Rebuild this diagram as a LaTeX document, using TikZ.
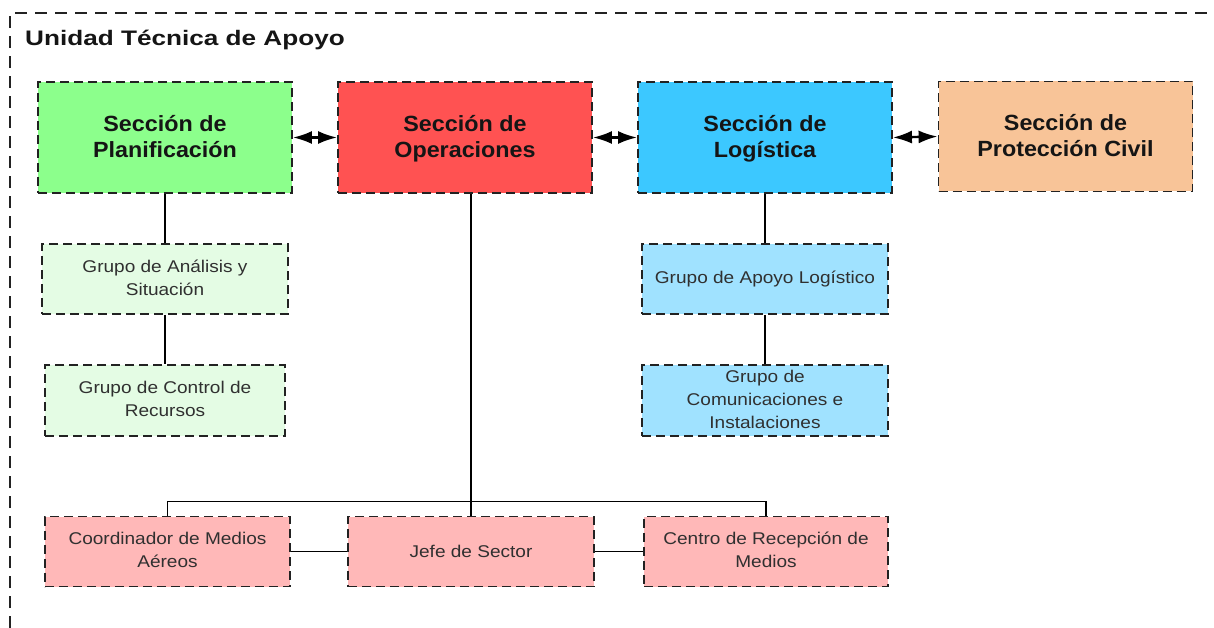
\documentclass[tikz,border=0pt]{standalone}
\usepackage{fontspec}
\setmainfont{Liberation Sans}
\newfontfamily\wideA[FakeStretch=1.06]{Liberation Sans}
\newfontfamily\wideB[FakeStretch=1.12]{Liberation Sans}
\newfontfamily\wideT[FakeStretch=1.245]{Liberation Sans}
\newcommand\secstrut{\rule[-5pt]{0pt}{24pt}}
\usetikzlibrary{arrows.meta}
\definecolor{cplan}{HTML}{8CFF8C}
\definecolor{coper}{HTML}{FF5252}
\definecolor{clog}{HTML}{3CC8FF}
\definecolor{cprot}{HTML}{F8C498}
\definecolor{cgreen}{HTML}{E4FCE4}
\definecolor{cblue}{HTML}{A0E2FF}
\definecolor{cpink}{HTML}{FFB8B8}
\definecolor{edge}{HTML}{222222}
\definecolor{txt}{HTML}{151515}
\definecolor{gtxt}{HTML}{303030}
\tikzset{
  frame/.style={draw=edge,line width=1.4pt,dash pattern=on 12pt off 8pt},
  secbox/.style={draw=edge,line width=1.8pt,dash pattern=on 9pt off 5pt,minimum width=254pt,minimum height=111pt,inner sep=0pt,align=center,text=txt,font=\wideA\fontsize{22}{26}\selectfont\bfseries},
  grpbox/.style={draw=edge,line width=1.6pt,dash pattern=on 9pt off 5pt,minimum height=70pt,inner sep=0pt,align=center,text=gtxt,font=\wideB\fontsize{17}{23}\selectfont},
  link/.style={draw=black,line width=1.3pt},
  dbl/.style={draw=black,line width=2.4pt,{Latex[length=19pt,width=13pt]}-{Latex[length=19pt,width=13pt]}}
}
\begin{document}
\begin{tikzpicture}[x=1pt,y=-1pt]
\useasboundingbox (0,0) rectangle (1214,628);
\coordinate (fbl) at (10,628);
\coordinate (ftl) at (10,13);
\coordinate (ftr) at (1214,13);
\draw[frame] (fbl) -- (ftl) -- (ftr);
\node[anchor=base west,inner sep=0pt,text=txt,font=\wideT\fontsize{21}{25}\selectfont\bfseries] (title) at (25,46) {Unidad Técnica de Apoyo};

\node[secbox,fill=cplan] (plan) at (165,137.5) {\secstrut Sección de\\\secstrut Planificación};
\node[secbox,fill=coper] (oper) at (465,137.5) {\secstrut Sección de\\\secstrut Operaciones};
\node[secbox,fill=clog] (log) at (765,137.5) {\secstrut Sección de\\\secstrut Logística};
\node[secbox,fill=cprot,minimum height=110pt] (prot) at (1065.5,136.5) {\secstrut Sección de\\\secstrut Protección Civil};

\draw[dbl] (plan.east) -- (oper.west);
\draw[dbl] (oper.east) -- (log.west);
\draw[dbl] (log.east) -- (prot.west);

\node[grpbox,fill=cgreen,minimum width=246pt] (anal) at (165,279) {\strut Grupo de Análisis y\\\strut Situación};
\node[grpbox,fill=cgreen,minimum width=240pt,minimum height=71pt] (ctrl) at (165,400.5) {\strut Grupo de Control de\\\strut Recursos};
\node[grpbox,fill=cblue,minimum width=246pt] (apoyo) at (765,279) {Grupo de Apoyo Logístico};
\node[grpbox,fill=cblue,minimum width=246pt,minimum height=71pt] (comu) at (765,400.5) {\strut Grupo de\\\strut Comunicaciones e\\\strut Instalaciones};

\node[grpbox,fill=cpink,minimum width=245pt] (coord) at (167.5,551.5) {\strut Coordinador de Medios\\\strut Aéreos};
\node[grpbox,fill=cpink,minimum width=246pt] (jefe) at (471,551.5) {Jefe de Sector};
\node[grpbox,fill=cpink,minimum width=244pt] (centro) at (766,551.5) {\strut Centro de Recepción de\\\strut Medios};

\draw[link] (plan.south) -- (anal.north);
\draw[link] (anal.south) -- (ctrl.north);
\draw[link] (log.south) -- (apoyo.north);
\draw[link] (apoyo.south) -- (comu.north);
\draw[link] (jefe.north) -- (jefe.north |- oper.south);
\draw[link] (coord.north) -- ++(0,-14) -| (centro.north);
\draw[link] (coord.east) -- (jefe.west);
\draw[link] (jefe.east) -- (centro.west);
\end{tikzpicture}
\end{document}
